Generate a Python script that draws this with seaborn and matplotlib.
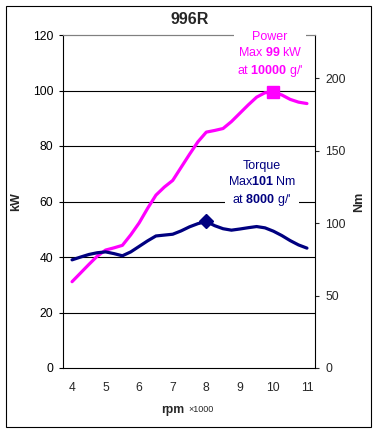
import matplotlib
matplotlib.use("Agg")
import matplotlib.pyplot as plt
import matplotlib.patches as mpatches
import seaborn as sns
import pandas as pd

# ---- data ----
rpm = [4.0, 4.25, 4.5, 4.75, 5.0, 5.25, 5.5, 5.75, 6.0, 6.25, 6.5, 6.75, 7.0, 7.25,
       7.5, 7.75, 8.0, 8.25, 8.5, 8.75, 9.0, 9.25, 9.5, 9.75, 10.0, 10.25, 10.5, 10.75, 11.0]
power_kw = [31.1, 34.2, 37.3, 40.3, 42.5, 43.3, 44.2, 48.0, 52.3, 57.5, 62.3, 65.2, 67.6, 72.3,
            77.0, 81.5, 85.0, 85.6, 86.3, 88.8, 91.8, 94.8, 97.6, 99.2, 99.3, 98.4, 96.8, 95.8, 95.3]
torque_nm = [74.7, 76.6, 78.4, 79.6, 80.2, 79.0, 77.5, 80.2, 84.0, 87.8, 91.2, 91.8, 92.4, 94.7,
             97.5, 99.7, 101.2, 98.3, 96.2, 95.2, 96.0, 96.9, 97.7, 96.8, 94.5, 91.5, 88.0, 85.0, 82.8]
power_peak_rpm = [10.0]
power_peak_kw = [99.3]
torque_peak_rpm = [8.0]
torque_peak_nm = [101.2]
x_ticks = [4, 5, 6, 7, 8, 9, 10, 11]
kw_ticks = [0, 20, 40, 60, 80, 100, 120]
nm_ticks = [0, 50, 100, 150, 200]

df = pd.DataFrame({"rpm": rpm, "power": power_kw, "torque": torque_nm})

sns.set_style("white")
plt.rcParams["font.family"] = ["Liberation Sans", "DejaVu Sans"]
plt.rcParams["mathtext.fontset"] = "custom"
plt.rcParams["mathtext.rm"] = "Liberation Sans"
plt.rcParams["mathtext.bf"] = "Liberation Sans:bold"

W, H = 377, 433
fig = plt.figure(figsize=(W / 100, H / 100), dpi=100)
ax = fig.add_axes([63 / W, (H - 368) / H, (315 - 63) / W, (368 - 35) / H])
ax2 = ax.twinx()

MAG = "#FF00FF"
NAVY = "#000080"

sns.lineplot(data=df, x="rpm", y="power", ax=ax, color=MAG, linewidth=2.3, zorder=3)
sns.lineplot(data=df, x="rpm", y="torque", ax=ax2, color=NAVY, linewidth=2.3, zorder=3)
ax.plot(power_peak_rpm, power_peak_kw, marker="s", markersize=8.5, color=MAG,
        linestyle="none", zorder=4)
ax2.plot(torque_peak_rpm, torque_peak_nm, marker="D", markersize=7, color=NAVY,
         linestyle="none", zorder=4)

ax.set_xlim(3.73, 11.24)
ax.set_ylim(0, 120)
ax2.set_ylim(0, 230)
ax.set_xticks(x_ticks)
ax.set_xticklabels([str(t) for t in x_ticks])
ax.set_yticks(kw_ticks)
ax2.set_yticks(nm_ticks)

ax.grid(False)
ax2.grid(False)
for v in kw_ticks[1:-1]:
    ax.axhline(v, color="black", linewidth=0.8, zorder=1)

for a in (ax, ax2):
    for s in a.spines.values():
        s.set_linewidth(0.8)
        s.set_color("black")
ax.spines["top"].set_color("#808080")
ax2.spines["top"].set_color("#808080")
ax.spines["right"].set_visible(False)
ax2.spines["left"].set_visible(False)
ax2.spines["bottom"].set_visible(False)

ax.tick_params(axis="y", direction="out", length=3, width=0.8, pad=4, labelsize=8.7,
               left=True, colors="black")
ax.tick_params(axis="x", length=0, pad=10, labelsize=8.7)
ax2.tick_params(axis="y", direction="out", length=3, width=0.8, pad=4.5, labelsize=8.7,
                right=True)

ax.set_xlabel("")
ax.set_ylabel("kW", fontsize=9, fontweight="bold", labelpad=8)
ax2.set_ylabel("Nm", fontsize=9, fontweight="bold", labelpad=5)

fig.text(190 / W, 1 - 20 / H, "996R", ha="center", va="center", fontsize=11.5,
         fontweight="bold")
fig.text(184 / W, 1 - 410 / H, "rpm", ha="right", va="center", fontsize=8.7,
         fontweight="bold")
fig.text(188 / W, 1 - 410 / H, "×1000", ha="left", va="center", fontsize=6.5)

ax2.text(9.9, 112.8, "Power\nMax $\\mathbf{99}$ kW\nat $\\mathbf{10000}$ g/'", ha="center",
         va="center", color=MAG, fontsize=9, linespacing=1.3, transform=ax.transData,
         bbox=dict(facecolor="white", edgecolor="none", pad=2), zorder=5)
ax2.text(9.66, 66.3, "Torque\nMax$\\mathbf{101}$ Nm\nat $\\mathbf{8000}$ g/'", ha="center",
         va="center", color=NAVY, fontsize=9, linespacing=1.3, transform=ax.transData,
         bbox=dict(facecolor="white", edgecolor="none", pad=2), zorder=5)

fig.patches.append(mpatches.Rectangle((5.5 / W, (H - 427) / H), 365.5 / W, 421 / H,
                                      transform=fig.transFigure, fill=False,
                                      edgecolor="black", linewidth=0.8))

fig.savefig("out.png", dpi=100)
